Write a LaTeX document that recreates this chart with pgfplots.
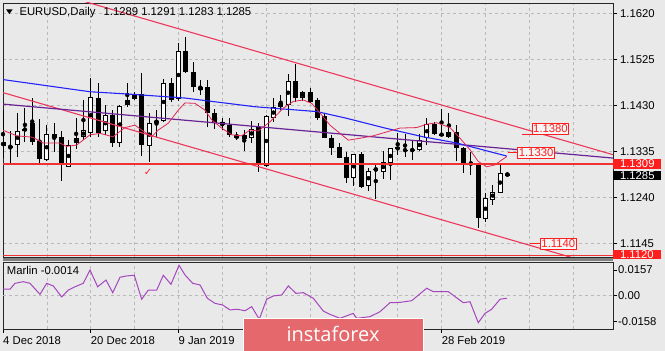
\documentclass[border=0pt]{standalone}
\usepackage{pgfplots}
\pgfplotsset{compat=1.18}
\usepackage{pgfplotstable}
\usepackage{fontspec}
\setmainfont{Liberation Sans}
\newfontfamily\djv{DejaVu Sans}
\newfontfamily\osans{Open Sans}
\newcommand\lf{\fontsize{11.3bp}{13bp}\selectfont}
\definecolor{bg}{RGB}{233,233,233}
\definecolor{gridc}{RGB}{185,185,185}
\definecolor{chan}{RGB}{236,55,90}
\definecolor{hline}{RGB}{240,50,50}
\definecolor{maBlue}{RGB}{35,35,250}
\definecolor{trPurp}{RGB}{105,35,150}
\definecolor{pinkc}{RGB}{225,40,85}
\definecolor{marlinc}{RGB}{165,70,190}
\definecolor{banner}{RGB}{228,104,108}
\definecolor{lblred}{RGB}{255,30,30}

\pgfplotstableread{
i o h l c
2 1.1348 1.1414 1.1324 1.1378
6 1.1317 1.1389 1.1314 1.1370
9 1.1303 1.1358 1.1302 1.1348
10 1.1352 1.1403 1.1339 1.1362
11 1.1364 1.1441 1.1358 1.1379
12 1.1372 1.1486 1.1365 1.1447
14 1.1376 1.1431 1.1369 1.1410
16 1.1352 1.1431 1.1343 1.1429
17 1.1431 1.1476 1.1427 1.1441
18 1.1443 1.1458 1.1441 1.1453
20 1.1345 1.1414 1.1312 1.1394
21 1.1395 1.1420 1.1365 1.1397
22 1.1398 1.1484 1.1396 1.1476
24 1.1442 1.1558 1.1440 1.1543
27 1.1462 1.1482 1.1451 1.1468
34 1.1362 1.1398 1.1352 1.1382
36 1.1305 1.1410 1.1303 1.1408
37 1.1403 1.1446 1.1396 1.1427
38 1.1427 1.1451 1.1420 1.1434
39 1.1431 1.1494 1.1407 1.1481
41 1.1446 1.1460 1.1440 1.1457
48 1.1279 1.1330 1.1264 1.1329
50 1.1264 1.1300 1.1253 1.1295
51 1.1297 1.1311 1.1236 1.1298
52 1.1293 1.1336 1.1277 1.1312
53 1.1310 1.1342 1.1276 1.1341
57 1.1338 1.1370 1.1336 1.1358
58 1.1362 1.1404 1.1348 1.1391
66 1.1195 1.1248 1.1190 1.1238
67 1.1235 1.1266 1.1224 1.1252
68 1.1250 1.1307 1.1249 1.1291
}\upc

\pgfplotstableread{
i o h l c
0 1.1355 1.1420 1.1321 1.1345
1 1.1345 1.1376 1.1310 1.1344
3 1.1381 1.1424 1.1355 1.1379
4 1.1393 1.1445 1.1348 1.1355
5 1.1356 1.1401 1.1309 1.1319
7 1.1370 1.1393 1.1333 1.1362
8 1.1365 1.1376 1.1274 1.1307
13 1.1445 1.1477 1.1365 1.1372
15 1.1410 1.1420 1.1345 1.1353
19 1.1453 1.1496 1.1325 1.1348
23 1.1476 1.1486 1.1437 1.1441
25 1.1543 1.1572 1.1497 1.1499
26 1.1499 1.1520 1.1458 1.1467
28 1.1467 1.1482 1.1385 1.1414
29 1.1414 1.1422 1.1381 1.1393
30 1.1395 1.1403 1.1379 1.1389
31 1.1389 1.1403 1.1365 1.1369
32 1.1368 1.1374 1.1358 1.1362
33 1.1368 1.1379 1.1336 1.1361
35 1.1386 1.1393 1.1293 1.1307
40 1.1481 1.1515 1.1437 1.1446
42 1.1458 1.1465 1.1435 1.1437
43 1.1441 1.1446 1.1400 1.1403
44 1.1407 1.1414 1.1362 1.1363
45 1.1363 1.1369 1.1327 1.1341
46 1.1343 1.1352 1.1321 1.1322
47 1.1323 1.1334 1.1269 1.1279
49 1.1329 1.1334 1.1260 1.1261
54 1.1343 1.1372 1.1327 1.1339
55 1.1338 1.1370 1.1324 1.1337
56 1.1338 1.1358 1.1317 1.1337
59 1.1391 1.1396 1.1369 1.1370
60 1.1370 1.1422 1.1367 1.1369
61 1.1374 1.1414 1.1363 1.1365
62 1.1374 1.1389 1.1314 1.1341
63 1.1341 1.1345 1.1290 1.1310
64 1.1310 1.1334 1.1286 1.1309
65 1.1310 1.1311 1.1177 1.1197
69 1.1289 1.1291 1.1283 1.1285
}\dnc

\pgfplotstableread{
i p
-0.41 1.1484
11.90 1.1458
17.37 1.1453
24.90 1.1445
34.47 1.1427
42.95 1.1417
47.06 1.1403
52.26 1.1383
57.46 1.1365
62.11 1.1352
68.95 1.1325
}\bluema

\pgfplotstableread{
i p
-0.41 1.1381
1.87 1.1367
4.10 1.1364
5.47 1.1352
7.80 1.1352
8.71 1.1345
10.08 1.1348
11.90 1.1369
13.27 1.1372
15.05 1.1365
16.69 1.1384
18.06 1.1389
18.97 1.1379
20.34 1.1365
21.25 1.1379
22.61 1.1393
23.98 1.1420
24.90 1.1435
26.27 1.1434
27.63 1.1420
28.55 1.1400
29.92 1.1383
31.29 1.1369
32.65 1.1367
33.79 1.1379
34.92 1.1377
36.53 1.1396
38.34 1.1424
39.71 1.1438
41.08 1.1441
42.23 1.1434
43.37 1.1414
44.73 1.1389
46.10 1.1372
47.24 1.1358
48.84 1.1362
50.66 1.1367
52.26 1.1374
54.31 1.1383
56.59 1.1384
57.96 1.1391
59.33 1.1394
61.15 1.1384
62.52 1.1362
63.89 1.1338
65.02 1.1314
66.17 1.1303
67.31 1.1307
68.22 1.1317
68.91 1.1324
}\pinkma

\pgfplotstableread{
i v
-0.04 0.0040
0.96 0.0040
1.64 0.0076
2.78 0.0086
3.69 0.0076
5.06 0.0009
5.98 0.0076
6.88 0.0060
8.03 -0.0007
8.93 0.0035
9.85 0.0055
10.98 0.0076
11.90 0.0157
12.95 0.0055
14.09 0.0096
15.01 0.0019
16.01 0.0113
16.92 0.0121
17.96 0.0125
18.97 -0.0021
19.88 0.0035
21.03 0.0035
21.93 0.0125
22.98 0.0070
24.08 0.0186
24.90 0.0127
25.95 0.0076
26.95 0.0066
27.95 -0.0015
29.00 -0.0046
30.05 -0.0056
31.05 -0.0086
32.05 -0.0082
33.11 -0.0091
34.02 -0.0066
35.06 -0.0143
36.07 -0.0021
36.98 -0.0001
38.13 0.0005
39.03 0.0060
40.08 0.0015
41.08 0.0019
42.45 -0.0015
43.82 -0.0093
44.73 -0.0113
46.10 -0.0137
47.92 -0.0107
48.39 -0.0137
50.21 -0.0127
51.57 -0.0097
52.94 -0.0042
54.31 -0.0040
55.91 -0.0030
57.96 0.0046
58.86 0.0025
60.92 0.0025
62.97 -0.0042
63.89 -0.0036
65.02 -0.0164
65.94 -0.0107
66.85 -0.0082
67.99 -0.0021
68.91 -0.0015
}\marlin

\begin{document}
\begin{tikzpicture}
\useasboundingbox (0,0) rectangle (665bp,351bp);
\fill[bg] (0,0) rectangle (665bp,351bp);
% separator between panes
\fill[black!50] (3bp,89.5bp) rectangle (613bp,93.5bp);
\begin{axis}[
  at={(3bp,94bp)}, anchor=south west,
  scale only axis, width=610bp, height=254bp,
  xmin=0, xmax=83.45, ymin=1.11167, ymax=1.16413,
  axis line style={draw=black!85, line width=0.8bp},
  clip mode=individual,
  scaled ticks=false,
  xtick={6,12,...,78}, xticklabels=\empty, xmajorgrids,
  ytick={1.1145,1.1240,1.1335,1.1430,1.1525,1.1620},
  yticklabels={1.1145,1.1240,1.1335,1.1430,1.1525,1.1620},
  ymajorgrids, ytick pos=right,
  grid style={gridc, line width=0.7bp, dash pattern=on 3bp off 3bp},
  tick align=outside, major tick length=4bp,
  x tick style={draw=none},
  y tick style={black, line width=0.7bp},
  yticklabel style={font=\lf, anchor=west, inner sep=0pt, xshift=3bp},
]
% wicks
\addplot[only marks, mark=none, forget plot, error bars/.cd, y dir=both, y explicit, error mark=none, error bar style={line width=1bp, draw=black}]
  table[x=i, y expr={(\thisrow{h}+\thisrow{l})/2}, y error expr={(\thisrow{h}-\thisrow{l})/2}] \upc;
\addplot[only marks, mark=none, forget plot, error bars/.cd, y dir=both, y explicit, error mark=none, error bar style={line width=1bp, draw=black}]
  table[x=i, y expr={(\thisrow{h}+\thisrow{l})/2}, y error expr={(\thisrow{h}-\thisrow{l})/2}] \dnc;
% bodies
\addplot[only marks, mark=none, forget plot, error bars/.cd, y dir=both, y explicit, error mark=none, error bar style={line width=5bp, draw=black}]
  table[x=i, y expr={(\thisrow{o}+\thisrow{c})/2}, y error expr={max(abs(\thisrow{o}-\thisrow{c})/2,0.0001)}] \dnc;
\addplot[only marks, mark=none, forget plot, error bars/.cd, y dir=both, y explicit, error mark=none, error bar style={line width=5bp, draw=black}]
  table[x=i, y expr={(\thisrow{o}+\thisrow{c})/2}, y error expr={max(abs(\thisrow{o}-\thisrow{c})/2,0.0001)}] \upc;
\addplot[only marks, mark=none, forget plot, error bars/.cd, y dir=both, y explicit, error mark=none, error bar style={line width=3bp, draw=white}]
  table[x=i, y expr={(\thisrow{o}+\thisrow{c})/2}, y error expr={max(abs(\thisrow{o}-\thisrow{c})/2-0.000207,0.00001)}] \upc;
% channel lines and trend lines
\addplot[chan, line width=1.1bp] coordinates {(-0.41,1.1695) (83.45,1.1328)};
\addplot[chan, line width=1.1bp] coordinates {(-0.41,1.1458) (83.45,1.1091)};
\addplot[trPurp, line width=1.2bp] coordinates {(-0.41,1.1433) (83.45,1.1321)};
\addplot[maBlue, line width=1.1bp] table[x=i,y=p] \bluema;
\addplot[pinkc, line width=0.8bp] table[x=i,y=p] \pinkma;
\addplot[hline, line width=1.3bp] coordinates {(0,1.1309) (83.45,1.1309)};
\addplot[hline, line width=1.3bp] coordinates {(0,1.1120) (83.45,1.1120)};
% label leaders
\addplot[lblred, line width=1bp] coordinates {(70.96,1.1370) (72.33,1.1370)};
\addplot[lblred, line width=1bp] coordinates {(69.08,1.13315) (70.36,1.13315)};
\addplot[lblred, line width=1bp] coordinates {(72.09,1.11436) (73.46,1.11436)};
\node[draw=lblred, line width=1bp, fill=white!55!bg, text=lblred, font=\lf, inner xsep=1bp, inner ysep=1.5bp, anchor=west] at (axis cs:72.33,1.13817) {1.1380};
\node[draw=lblred, line width=1bp, fill=white!55!bg, text=lblred, font=\lf, inner xsep=1bp, inner ysep=1.5bp, anchor=west] at (axis cs:70.36,1.13315) {1.1330};
\node[draw=lblred, line width=1bp, fill=white!55!bg, text=lblred, font=\lf, inner xsep=1bp, inner ysep=1.5bp, anchor=west] at (axis cs:73.46,1.11436) {1.1140};
\node[text=lblred, font=\djv\fontsize{10bp}{10bp}\selectfont] at (axis cs:19.84,1.12922) {✓};
% right-side price boxes
\node[fill=lblred, text=white, font=\lf, inner xsep=6.8bp, inner ysep=0.8bp, anchor=west] at (axis cs:83.45,1.1309) {1.1309};
\node[fill=black, text=white, font=\lf, inner xsep=6.8bp, inner ysep=0.8bp, anchor=west] at (axis cs:83.45,1.1285) {1.1285};
\node[fill=lblred, text=white, font=\lf, inner xsep=6.8bp, inner ysep=0.8bp, anchor=west] at (axis cs:83.45,1.1122) {1.1120};
\end{axis}

\begin{axis}[
  at={(3bp,22bp)}, anchor=south west,
  scale only axis, width=610bp, height=67bp,
  xmin=0, xmax=83.45, ymin=-0.02022, ymax=0.02058,
  axis line style={draw=black!85, line width=0.8bp},
  clip mode=individual,
  scaled ticks=false,
  xtick={0,12,24,60},
  xticklabels={4 Dec 2018,20 Dec 2018,9 Jan 2019,28 Feb 2019},
  minor xtick={6,18,30,36,42,48,54,66,72,78},
  xmajorgrids, xminorgrids, xtick pos=bottom,
  ytick={-0.0158,0,0.0157}, yticklabels={-0.0158,0.00,0.0157}, ytick pos=right,
  tick align=outside, major tick length=4bp, minor tick length=0pt,
  grid style={gridc, line width=0.7bp, dash pattern=on 3bp off 3bp},
  minor grid style={gridc, line width=0.7bp, dash pattern=on 3bp off 3bp},
  tick style={black, line width=0.7bp},
  xticklabel style={font=\lf, anchor=north west, inner sep=0pt, yshift=-3bp},
  yticklabel style={font=\lf, anchor=west, inner sep=0pt, xshift=1bp},
]
\addplot[gridc, line width=0.7bp, dash pattern=on 3bp off 3bp] coordinates {(0,0) (83.45,0)};
\addplot[marlinc, line width=1bp] table[x=i,y=v] \marlin;
\end{axis}

% titles
\fill[black] (6bp,341.7bp) -- (12.7bp,341.7bp) -- (9.35bp,337bp) -- cycle;
\node[anchor=base west, font=\lf, inner sep=0pt] at (19.3bp,335.3bp) {EURUSD,Daily\hspace{5bp} 1.1289 1.1291 1.1283 1.1285};
\node[anchor=base west, font=\lf, inner sep=0pt] at (6.7bp,76bp) {Marlin -0.0014};
% watermark banner
\fill[banner] (243bp,-2bp) rectangle (423bp,32bp);
\draw[white, line width=1bp] (243bp,-2bp) rectangle (423bp,32bp);
\node[anchor=base, text=white, font=\osans\fontsize{20bp}{20bp}\selectfont, inner sep=0pt] at (333bp,9.3bp) {instaforex};
\end{tikzpicture}
\end{document}
